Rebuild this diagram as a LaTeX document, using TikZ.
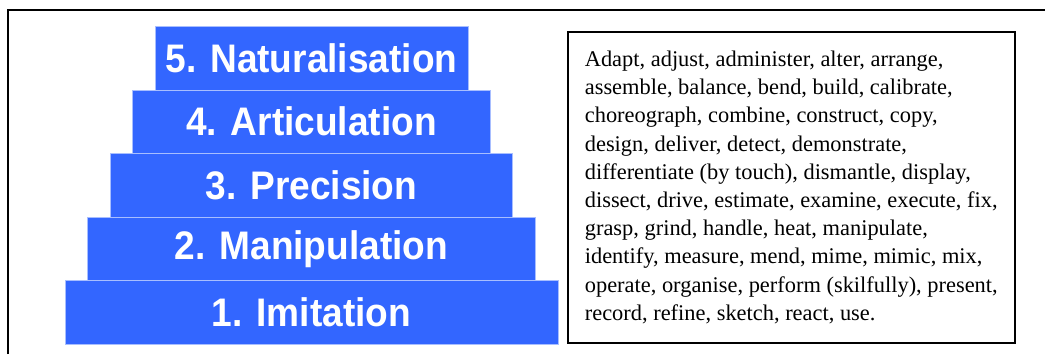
\documentclass[tikz,border=0pt]{standalone}
\usepackage{fontspec}
\usepackage{xcolor}
\usepackage{tikz}
\usetikzlibrary{positioning}
\newfontfamily\verbfont{Liberation Serif}
\newfontfamily\stepfont{Liberation Sans}[FakeStretch=0.93]
\definecolor{stepblue}{HTML}{3366FF}
\definecolor{stepedge}{HTML}{A8BEFF}

\begin{document}
\begin{tikzpicture}[x=1bp, y=-1bp,
  stepbox/.style={rectangle, fill=stepblue, draw=stepedge, line width=0.8bp, outer sep=0pt, inner sep=0pt,
    minimum height=63.6bp, text=white, font=\stepfont\bfseries\fontsize{40}{42}\selectfont}]
\useasboundingbox (0,0) rectangle (1045,354);
% frame
\draw[line width=1.6bp] (8,354) -- (8,10) -- (1045,10);
% steps
\node[stepbox, minimum width=493bp] (L1) at (311.5,312.5) {1. Imitation};
\node[stepbox, minimum width=448bp, above=0pt of L1] (L2) {2. Manipulation};
\node[stepbox, minimum width=402bp, above=0pt of L2] (L3) {3. Precision};
\node[stepbox, minimum width=358bp, above=0pt of L3] (L4) {4. Articulation};
\node[stepbox, minimum width=313bp, above=0pt of L4] (L5) {5. Naturalisation};
% verbs
\node[rectangle, draw, line width=1.6bp, minimum width=447bp, minimum height=311bp, anchor=north west,
  align=left, font=\verbfont\fontsize{22.5}{28.3}\selectfont] (verbs) at (567,31) {
Adapt, adjust, administer, alter, arrange,\\
assemble, balance, bend, build, calibrate,\\
choreograph, combine, construct, copy,\\
design, deliver, detect, demonstrate,\\
differentiate (by touch), dismantle, display,\\
dissect, drive, estimate, examine, execute, fix,\\
grasp, grind, handle, heat, manipulate,\\
identify, measure, mend, mime, mimic, mix,\\
operate, organise, perform (skilfully), present,\\
record, refine, sketch, react, use.
};
\end{tikzpicture}
\end{document}
